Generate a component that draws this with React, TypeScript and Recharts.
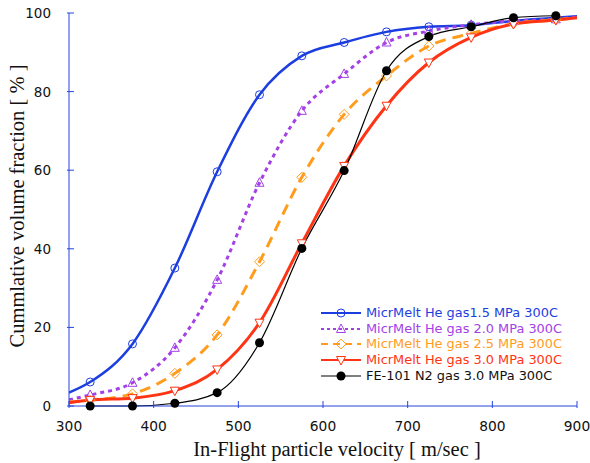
import { LineChart, Line, XAxis, YAxis, Legend, Label } from "recharts";

// velocity grid [m/sec]; 300 and 900 are curve ends without markers
const velocity = [300, 325, 375, 425, 475, 525, 575, 625, 675, 725, 775, 825, 875, 900];
const he15 = [3.4, 6.1, 15.8, 35.1, 59.6, 79.2, 89.1, 92.5, 95.2, 96.5, 96.9, 98.0, 98.8, 99.2];
const he20 = [1.6, 2.8, 5.9, 14.8, 32.1, 56.8, 75.1, 84.5, 92.5, 95.4, 97.0, 98.0, 98.4, 99.0];
const he25 = [1.0, 1.5, 3.1, 8.3, 18.1, 36.7, 58.2, 74.2, 84.0, 91.6, 94.8, 97.3, 98.3, 98.8];
const he30 = [0.8, 1.5, 2.0, 3.9, 9.3, 21.2, 41.4, 61.1, 76.4, 87.4, 93.8, 97.2, 98.2, 98.8];
const fe30 = [null, 0, 0, 0.7, 3.4, 16.1, 40.1, 59.9, 85.3, 94.0, 96.5, 98.8, 99.3, null];

const xTicks = [300, 400, 500, 600, 700, 800, 900];
const yTicks = [0, 20, 40, 60, 80, 100];

const seriesNames = [
  "MicrMelt He gas1.5 MPa 300C",
  "MicrMelt He gas 2.0 MPa 300C",
  "MicrMelt He gas 2.5 MPa 300C",
  "MicrMelt He gas 3.0 MPa 300C",
  "FE-101 N2 gas 3.0 MPa 300C",
];

const data = velocity.map((v, i) => ({
  v,
  he15: he15[i],
  he20: he20[i],
  he25: he25[i],
  he30: he30[i],
  fe30: fe30[i],
}));

const AXIS = "#2444e0";
const SANS = "'DejaVu Sans', sans-serif";
const SERIF = "'Liberation Serif', 'Times New Roman', serif";

type Kind = "circle" | "up" | "diamond" | "down" | "dot";

const series: { key: string; color: string; width: number; dash?: string; kind: Kind }[] = [
  { key: "he15", color: "#1c3ee0", width: 2.5, kind: "circle" },
  { key: "he20", color: "#a441e6", width: 3, dash: "4 4", kind: "up" },
  { key: "he25", color: "#ff9c1e", width: 3, dash: "11 7", kind: "diamond" },
  { key: "he30", color: "#ff3414", width: 3, kind: "down" },
  { key: "fe30", color: "#000000", width: 1.2, kind: "dot" },
];

function marker(kind: Kind, cx: number, cy: number, color: string, key?: string) {
  switch (kind) {
    case "circle":
      return <circle key={key} cx={cx} cy={cy} r={4} fill="none" stroke={color} strokeWidth={1} />;
    case "up":
      return (
        <polygon key={key} points={`${cx},${cy - 5} ${cx - 4.5},${cy + 3.5} ${cx + 4.5},${cy + 3.5}`}
          fill="none" stroke={color} strokeWidth={1} />
      );
    case "diamond":
      return (
        <polygon key={key} points={`${cx},${cy - 5} ${cx + 5},${cy} ${cx},${cy + 5} ${cx - 5},${cy}`}
          fill="none" stroke={color} strokeWidth={1} />
      );
    case "down":
      return (
        <polygon key={key} points={`${cx - 4.5},${cy - 3.5} ${cx + 4.5},${cy - 3.5} ${cx},${cy + 5}`}
          fill="#fff" stroke={color} strokeWidth={1} />
      );
    default:
      return <circle key={key} cx={cx} cy={cy} r={4.5} fill={color} stroke="none" />;
  }
}

const makeDot = (kind: Kind, color: string) => (props: any) => {
  const { cx, cy, payload, index, value } = props;
  const k = `d-${kind}-${index}`;
  if (value == null || payload.v === 300 || payload.v === 900) return <g key={k} />;
  return marker(kind, cx, cy, color, k);
};

const BottomTick = (props: any) => {
  const { x, y, payload } = props;
  return (
    <g>
      <line x1={x} x2={x} y1={y} y2={y - 7} stroke={AXIS} />
      <text x={x} y={y + 23} textAnchor="middle" fontSize={13.8} fontFamily={SANS} fill="#111">
        {payload.value}
      </text>
    </g>
  );
};

const LeftTick = (props: any) => {
  const { x, y, payload } = props;
  return (
    <g>
      <line x1={x} x2={x + 7} y1={y} y2={y} stroke={AXIS} />
      <text x={x - 16} y={y + 5} textAnchor="end" fontSize={13.5} fontFamily={SANS} fill="#111">
        {payload.value}
      </text>
    </g>
  );
};

const TopTick = (props: any) => (
  <line x1={props.x} x2={props.x} y1={props.y} y2={props.y + 7} stroke={AXIS} />
);

const RightTick = (props: any) => (
  <line x1={props.x} x2={props.x - 7} y1={props.y} y2={props.y} stroke={AXIS} />
);

const LegendBox = () => (
  <div style={{ fontFamily: SANS, fontSize: 12.9, lineHeight: "15.7px" }}>
    {series.map((s, i) => (
      <div key={s.key} style={{ display: "flex", alignItems: "center", height: 15.7 }}>
        <svg width={44} height={14} style={{ marginRight: 2 }}>
          <line x1={1} x2={41} y1={7} y2={7} stroke={s.color}
            strokeWidth={s.kind === "dot" ? 1.2 : 2} strokeDasharray={s.dash ? (s.kind === "up" ? "3 3" : "7 5") : undefined} />
          {marker(s.kind, 21, 7, s.color)}
        </svg>
        <span style={{ color: s.color === "#000000" ? "#111" : s.color, whiteSpace: "nowrap" }}>{seriesNames[i]}</span>
      </div>
    ))}
  </div>
);

export default function App() {
  return (
    <div style={{ position: "absolute", left: 0, top: 0, background: "#fff" }}>
      <LineChart width={590} height={463} data={data} margin={{ top: 13, right: 13, bottom: 0, left: 0 }}>
        <XAxis dataKey="v" type="number" domain={[300, 900]} ticks={xTicks} height={57}
          stroke={AXIS} tickSize={0} tickLine={false} tick={<BottomTick />} allowDataOverflow>
          <Label content={() => (
            <text x={337} y={456} textAnchor="middle" fontSize={20.5} fontFamily={SERIF} fill="#111">
              In-Flight particle velocity [ m/sec ]
            </text>
          )} />
        </XAxis>
        <XAxis xAxisId="top" orientation="top" dataKey="v" type="number" domain={[300, 900]} ticks={xTicks}
          height={0} stroke={AXIS} tickSize={0} tickLine={false} tick={<TopTick />} />
        <YAxis type="number" domain={[0, 100]} ticks={yTicks} width={69} stroke={AXIS}
          tickSize={0} tickLine={false} tick={<LeftTick />}>
          <Label content={() => (
            <text x={24} y={206} transform="rotate(-90 24 206)" textAnchor="middle" fontSize={20.5}
              fontFamily={SERIF} fill="#111">
              Cummlative volume fraction [ % ]
            </text>
          )} />
        </YAxis>
        <YAxis yAxisId="r" orientation="right" type="number" domain={[0, 100]} ticks={yTicks} width={0}
          stroke={AXIS} tickSize={0} tickLine={false} tick={<RightTick />} />
        <Legend layout="vertical" align="center" verticalAlign="middle" content={<LegendBox />}
          wrapperStyle={{ position: "absolute", left: 320, top: 305, width: 270 }} />
        {series.map((s, i) => (
          <Line key={s.key} dataKey={s.key} name={seriesNames[i]} type="monotone" stroke={s.color}
            strokeWidth={s.width} strokeDasharray={s.dash} dot={makeDot(s.kind, s.color)}
            activeDot={false} isAnimationActive={false} />
        ))}
      </LineChart>
    </div>
  );
}
